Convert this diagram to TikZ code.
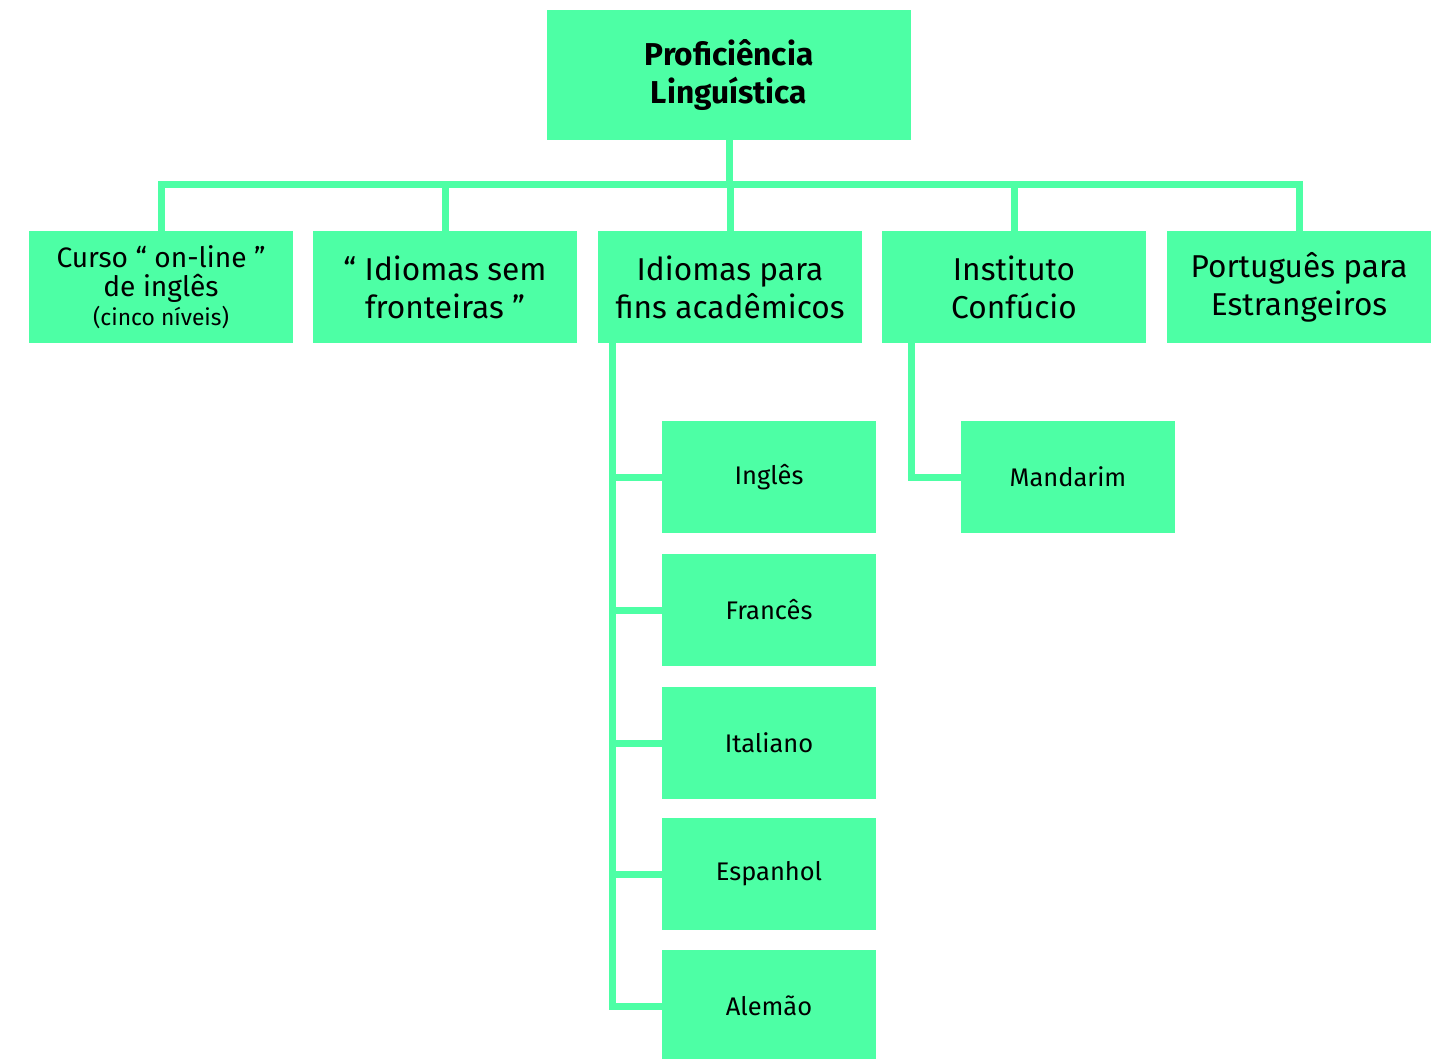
\documentclass[tikz,border=0pt]{standalone}
\usepackage{fontspec}
\setmainfont{Fira Sans}
\usetikzlibrary{positioning,calc}
\definecolor{verde}{RGB}{77,255,165}

\begin{document}
\begin{tikzpicture}[x=0.02cm,y=-0.02cm,
    caixa/.style={fill=verde, inner sep=0pt, align=center, minimum width=5.28cm, minimum height=2.24cm,
        font=\fontsize{18}{21.5}\selectfont},
    subcaixa/.style={caixa, minimum width=4.28cm, font=\fontsize{14.5}{17}\selectfont},
    ligacao/.style={draw=verde, line width=0.14cm}]
        \useasboundingbox (0,0) rectangle (1432,1058);
        \clip (0,0) rectangle (1432,1058);

        % Topo
        \node[caixa, minimum width=7.28cm, minimum height=2.6cm, font=\fontsize{18}{21.5}\selectfont\bfseries]
            (prof) at (729,75) {Proficiência\\Linguística};

        % Primeiro nível
        \node[caixa, font=\fontsize{16}{16.5}\selectfont] (curso) at (161,287)
            {Curso “ on-line ”\\de inglês\\{\fontsize{13}{15}\selectfont (cinco níveis)}};
        \node[caixa] (fronteiras) at (445,287) {“ Idiomas sem\\fronteiras ”};
        \node[caixa] (academicos) at (730,287) {Idiomas para\\fins acadêmicos};
        \node[caixa] (confucio) at (1014,287) {Instituto\\Confúcio};
        \node[caixa] (portugues) at (1299,287) {Português para\\Estrangeiros};

        % Segundo nível
        \node[subcaixa] (ingles) at (769,477) {Inglês};
        \node[subcaixa] (frances) at (769,610) {Francês};
        \node[subcaixa] (italiano) at (769,743) {Italiano};
        \node[subcaixa] (espanhol) at (769,874) {Espanhol};
        \node[subcaixa] (alemao) at (769,1006) {Alemão};
        \node[subcaixa] (mandarim) at (1068,477) {Mandarim};

        % Barra
        \coordinate (barra) at (729,184);
        \draw[ligacao] (prof.south) -- (barra);
        \draw[ligacao] (curso.north) |- (barra) -| (portugues.north);
        \foreach \n in {fronteiras,academicos,confucio}
            \draw[ligacao] (\n.north) -- (\n.north |- barra);

        % Ramos
        \coordinate (eixo) at ($(academicos.south west)+(15,0)$);
        \foreach \n in {ingles,frances,italiano,espanhol,alemao}
            \draw[ligacao] (eixo) |- (\n.west);
        \draw[ligacao] ($(confucio.south west)+(30,0)$) |- (mandarim.west);

\end{tikzpicture}
\end{document}
